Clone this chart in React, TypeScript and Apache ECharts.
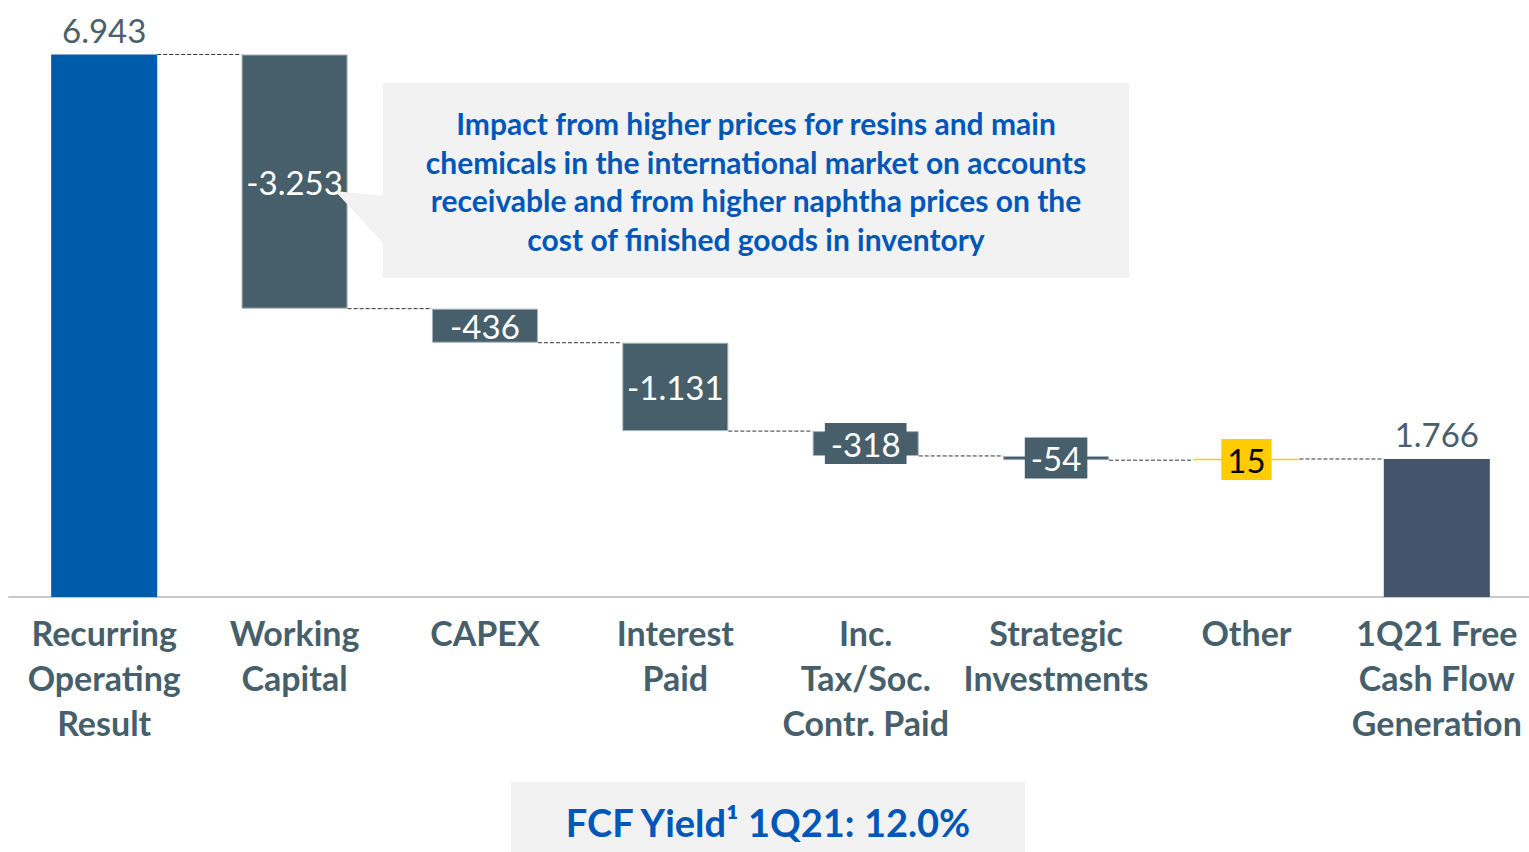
import React, { useEffect, useRef } from "react";
import * as echarts from "echarts";

const categories = [
  "Recurring\nOperating\nResult",
  "Working\nCapital",
  "CAPEX",
  "Interest\nPaid",
  "Inc.\nTax/Soc.\nContr. Paid",
  "Strategic\nInvestments",
  "Other",
  "1Q21 Free\nCash Flow\nGeneration",
];
// deltas (R$ million); first and last are totals
const deltas = [6943, -3253, -436, -1131, -318, -54, 15, 1766];
const isTotal = [true, false, false, false, false, false, false, true];
const labelBoxed = [false, false, false, false, true, true, true, false];
const barColors = ["#005BAA", "#475F6B", "#475F6B", "#475F6B", "#475F6B", "#475F6B", "#FFCC00", "#44546A"];

const calloutText =
  "Impact from higher prices for resins and main\nchemicals in the international market on accounts\nreceivable and from higher naphtha prices on the\ncost of finished goods in inventory";
const footerText = "FCF Yield¹ 1Q21: 12.0%";

const FONT = "Lato, 'Open Sans', sans-serif";

function fmt(v: number): string {
  const s = Math.abs(v).toString().replace(/\B(?=(\d{3})+(?!\d))/g, ".");
  return (v < 0 ? "-" : "") + s;
}

export default function App() {
  const ref = useRef<HTMLDivElement>(null);
  useEffect(() => {
    if (!ref.current) return;
    const chart = echarts.init(ref.current, undefined, { renderer: "svg" });

    const base: number[] = [];
    const height: number[] = [];
    const ends: number[] = [];
    let run = 0;
    deltas.forEach((d, i) => {
      if (isTotal[i]) {
        base.push(0);
        height.push(d);
        run = d;
      } else {
        const next = run + d;
        base.push(Math.min(run, next));
        height.push(Math.abs(d));
        run = next;
      }
      ends.push(run);
    });
    const connectors = ends.slice(0, -1).map((lvl, i) => [i, lvl]);
    const BAR_RATIO = 0.557;

    const valueData = height.map((h, i) => {
      const total = isTotal[i];
      const yellow = i === 6;
      const boxed = labelBoxed[i];
      return {
        value: h,
        itemStyle: {
          color: barColors[i],
          borderColor: total ? barColors[i] : yellow ? "#FFCC00" : "#A7B3BA",
          borderWidth: total ? 0 : yellow ? 1.5 : 1,
        },
        label: total
          ? {
              show: true,
              position: "top",
              distance: 8,
              color: "#4A5F6B",
              fontSize: 33,
              fontFamily: FONT,
            }
          : {
              show: true,
              position: "inside",
              color: yellow ? "#000000" : "#FFFFFF",
              fontSize: 33,
              fontFamily: FONT,
              backgroundColor: boxed ? barColors[i] : "transparent",
              padding: boxed ? [4, 6] : 0,
              lineHeight: 33,
            },
      };
    });

    chart.setOption({
      animation: false,
      grid: { left: 9, top: 50, right: 3, bottom: 255 },
      xAxis: {
        type: "category",
        data: categories,
        axisLine: { lineStyle: { color: "#C8C8C8", width: 2 } },
        axisTick: { show: false },
        axisLabel: {
          interval: 0,
          margin: 13,
          color: "#475F6B",
          fontFamily: FONT,
          fontWeight: "bold",
          fontSize: 34,
          lineHeight: 45,
          align: "center",
        },
      },
      yAxis: { type: "value", min: 0, max: 7000, show: false, splitLine: { show: false } },
      series: [
        {
          type: "bar",
          stack: "wf",
          barWidth: BAR_RATIO * 100 + "%",
          itemStyle: { color: "transparent" },
          data: base,
          silent: true,
        },
        {
          type: "bar",
          stack: "wf",
          barWidth: BAR_RATIO * 100 + "%",
          data: valueData,
          label: {
            formatter: (p: any) => fmt(deltas[p.dataIndex]),
          },
          z: 3,
        },
        {
          type: "custom",
          data: connectors,
          encode: { x: 0, y: 1 },
          z: 2,
          renderItem: (params: any, api: any) => {
            const i = api.value(0);
            const lvl = api.value(1);
            const p = api.coord([i, lvl]);
            const band = api.size([1, 0])[0];
            const half = (band * BAR_RATIO) / 2;
            return {
              type: "line",
              shape: { x1: p[0] + half, y1: p[1], x2: p[0] + band - half, y2: p[1] },
              style: { stroke: "#333333", lineWidth: 1, lineDash: [4, 2] },
            };
          },
        },
      ],
      graphic: [
        {
          type: "polygon",
          shape: { points: [[335, 191], [384, 196], [384, 244]] },
          style: { fill: "#F2F2F2" },
          z: 10,
        },
        {
          type: "rect",
          shape: { x: 383, y: 83, width: 746, height: 195 },
          style: { fill: "#F2F2F2" },
          z: 10,
        },
        {
          type: "text",
          x: 756,
          y: 181,
          z: 11,
          style: {
            text: calloutText,
            fill: "#0057B8",
            font: `bold 30px ${FONT}`,
            lineHeight: 38.5,
            align: "center",
            verticalAlign: "middle",
          },
        },
        {
          type: "rect",
          shape: { x: 511, y: 782, width: 514, height: 70 },
          style: { fill: "#F2F2F2" },
          z: 10,
        },
        {
          type: "text",
          x: 768,
          y: 822,
          z: 11,
          style: {
            text: footerText,
            fill: "#0057B8",
            font: `bold 38px ${FONT}`,
            align: "center",
            verticalAlign: "middle",
          },
        },
      ],
    });
    return () => chart.dispose();
  }, []);
  return (
    <div
      style={{
        position: "absolute",
        left: 0,
        top: 0,
        width: 1529,
        height: 852,
        overflow: "hidden",
        background: "#fff",
      }}
    >
      <div ref={ref} style={{ width: 1535, height: 852 }} />
    </div>
  );
}
